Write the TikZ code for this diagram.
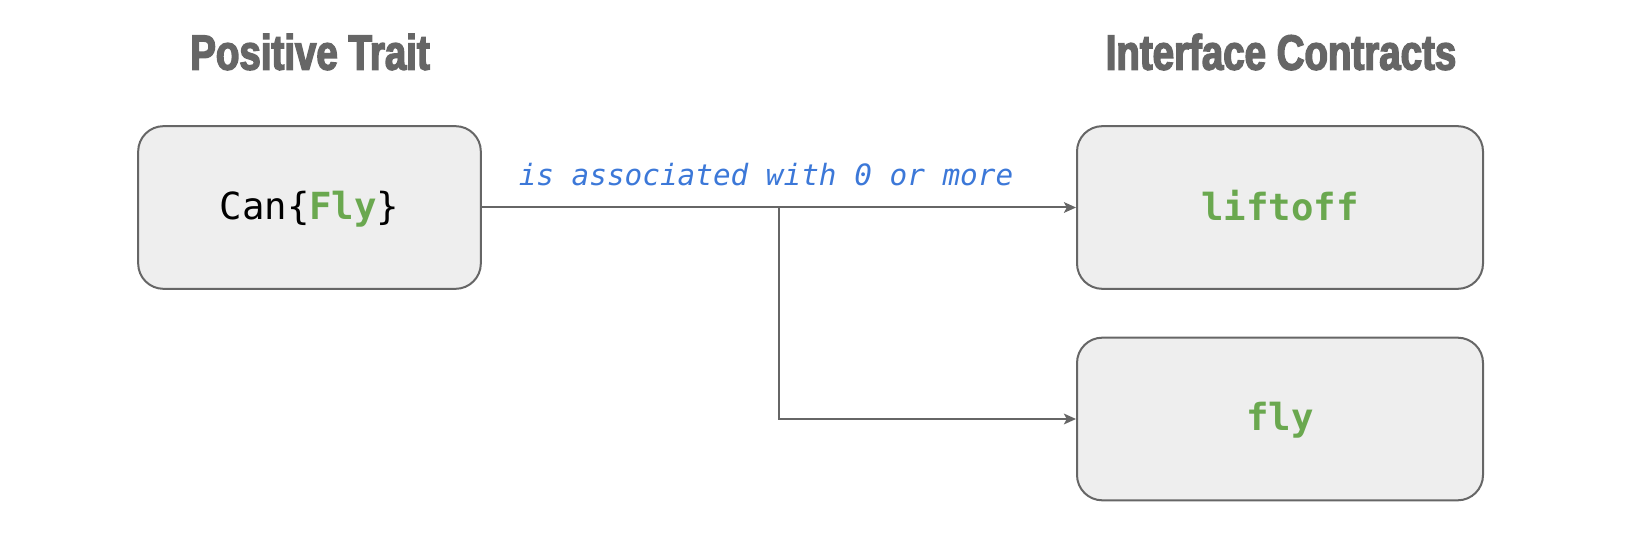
\documentclass[tikz,border=0pt]{standalone}
\usepackage{fontspec}
\setmonofont{DejaVu Sans Mono}
\newfontfamily\headfont[FakeStretch=0.78,FakeBold=3]{Liberation Sans Bold}
\usetikzlibrary{arrows.meta,positioning}
\definecolor{boxgray}{HTML}{EEEEEE}
\definecolor{linegray}{HTML}{666666}
\definecolor{codegreen}{HTML}{6AA84F}
\definecolor{labelblue}{HTML}{3C78D8}
\begin{document}
\begin{tikzpicture}[x=0.75pt,y=-0.75pt,>={Stealth[inset=2pt,length=9pt,width=8pt]},
 card/.style={draw=linegray,line width=1.5pt,fill=boxgray,rounded corners=19pt,minimum height=122pt,inner sep=0pt,text depth=4pt,font=\ttfamily\fontsize{28}{34}\selectfont},
 head/.style={text=linegray,font=\headfont\fontsize{37}{40}\selectfont},
 link/.style={->,draw=linegray,line width=1.5pt}]
\useasboundingbox (0,0) rectangle (1640,534);
\node[head] (leftHead) at (310,52) {Positive Trait};
\node[head] (rightHead) at (1281,52) {Interface Contracts};
\node[card,minimum width=257pt] (trait) at (309.5,207.5) {Can\{\textcolor{codegreen}{\bfseries Fly}\}};
\node[card,minimum width=304.5pt] (liftoff) at (1280,207.5) {\textcolor{codegreen}{\bfseries liftoff}};
\node[card,minimum width=304.5pt] (fly) at (1280,419) {\textcolor{codegreen}{\bfseries fly}};
\coordinate (split) at (779,207.5);
\draw[link] (trait.east) -- (liftoff.west);
\draw[link] (split) |- (fly.west);
\node[text=labelblue,font=\ttfamily\itshape\fontsize{22}{26}\selectfont] (assoc) at (766,175) {is associated with 0 or more};
\end{tikzpicture}
\end{document}
